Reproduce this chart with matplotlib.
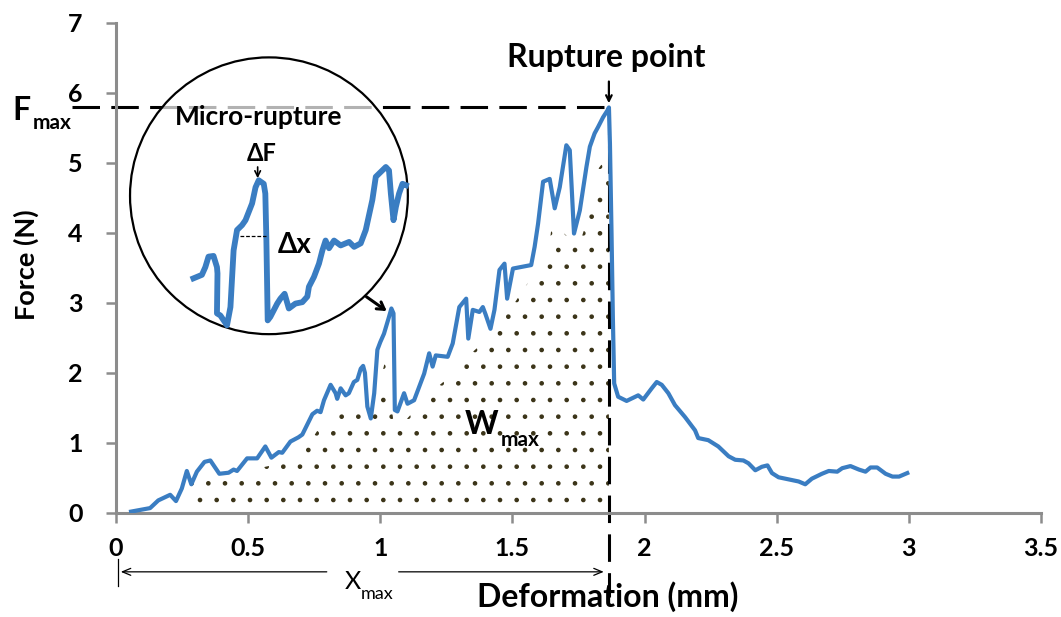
import numpy as np
import matplotlib
matplotlib.use('Agg')
import matplotlib.pyplot as plt
from matplotlib.patches import Ellipse

plt.rcParams['font.family'] = ['Lato', 'DejaVu Sans']
plt.rcParams['hatch.linewidth'] = 0.9

# force-deformation curve
deform = [0.057, 0.129, 0.16, 0.205, 0.227, 0.249, 0.268, 0.285, 0.306, 0.335,
          0.357, 0.391, 0.426, 0.445, 0.458, 0.496, 0.534, 0.565, 0.588, 0.616,
          0.629, 0.66, 0.69, 0.705, 0.743, 0.761, 0.774, 0.787, 0.812, 0.831,
          0.837, 0.85, 0.869, 0.881, 0.9, 0.913, 0.926, 0.935, 0.942, 0.951,
          0.964, 0.977, 0.989, 1.0, 1.014, 1.033, 1.042, 1.05, 1.055, 1.065,
          1.09, 1.103, 1.128, 1.147, 1.166, 1.185, 1.198, 1.21, 1.255, 1.274,
          1.299, 1.325, 1.333, 1.35, 1.375, 1.388, 1.398, 1.417, 1.432, 1.451,
          1.47, 1.48, 1.502, 1.571, 1.584, 1.597, 1.616, 1.641, 1.66, 1.679,
          1.704, 1.717, 1.733, 1.755, 1.78, 1.793, 1.811, 1.824, 1.843, 1.86,
          1.865, 1.869, 1.875, 1.88, 1.885, 1.90, 1.932, 1.976, 1.995, 2.027,
          2.046, 2.065, 2.09, 2.115, 2.153, 2.191, 2.203, 2.241, 2.279, 2.318,
          2.343, 2.374, 2.393, 2.419, 2.444, 2.465, 2.482, 2.507, 2.545, 2.583,
          2.608, 2.633, 2.671, 2.697, 2.729, 2.748, 2.779, 2.811, 2.836, 2.855,
          2.88, 2.912, 2.938, 2.963, 2.994]
force = [0.02, 0.07, 0.18, 0.26, 0.17, 0.35, 0.60, 0.41, 0.59, 0.73,
         0.75, 0.56, 0.575, 0.62, 0.60, 0.78, 0.78, 0.95, 0.79, 0.87,
         0.86, 1.02, 1.08, 1.12, 1.41, 1.46, 1.44, 1.61, 1.83, 1.71,
         1.63, 1.78, 1.68, 1.71, 1.87, 1.90, 2.06, 2.10, 2.0, 1.52,
         1.35, 1.71, 2.33, 2.44, 2.56, 2.80, 2.92, 2.85, 1.47, 1.45,
         1.71, 1.56, 1.61, 1.80, 1.99, 2.28, 2.09, 2.25, 2.23, 2.42,
         2.94, 3.06, 2.49, 2.90, 2.87, 2.94, 2.84, 2.63, 2.90, 3.47,
         3.56, 3.06, 3.49, 3.54, 3.80, 4.13, 4.73, 4.77, 4.35, 4.65,
         5.25, 5.18, 3.99, 4.32, 4.94, 5.23, 5.42, 5.51, 5.65, 5.75,
         5.79, 5.27, 3.99, 2.80, 1.85, 1.66, 1.60, 1.68, 1.62, 1.78,
         1.87, 1.83, 1.71, 1.54, 1.37, 1.18, 1.07, 1.04, 0.95, 0.81,
         0.76, 0.75, 0.71, 0.61, 0.66, 0.68, 0.57, 0.51, 0.48, 0.45,
         0.41, 0.49, 0.56, 0.60, 0.59, 0.64, 0.67, 0.62, 0.59, 0.65,
         0.65, 0.56, 0.52, 0.52, 0.57]

# dotted area (work to rupture)
fill_x = [0.28, 0.54, 0.69, 0.78, 0.87, 0.90, 0.96, 1.02, 1.05, 1.09, 1.20, 1.27,
          1.33, 1.39, 1.48, 1.51, 1.57, 1.63, 1.65, 1.69, 1.75, 1.81, 1.82, 1.84, 1.865]
fill_top = [0.50, 0.64, 0.76, 1.28, 1.45, 1.54, 1.25, 2.20, 1.30, 1.30, 1.75, 1.97,
            2.23, 2.44, 2.90, 3.01, 3.35, 3.56, 4.13, 4.01, 3.80, 4.49, 4.89, 4.99, 5.0]

# magnified micro-rupture drawn inside the circle (axes data units)
zoom_x = [0.293, 0.325, 0.338, 0.350, 0.369, 0.382, 0.384, 0.382, 0.395, 0.420,
          0.433, 0.445, 0.458, 0.477, 0.490, 0.515, 0.528, 0.540, 0.559, 0.565,
          0.569, 0.574, 0.584, 0.610, 0.622, 0.638, 0.654, 0.679, 0.705, 0.724,
          0.730, 0.749, 0.768, 0.781, 0.793, 0.806, 0.825, 0.850, 0.882, 0.901,
          0.926, 0.945, 0.970, 0.983, 1.002, 1.021, 1.033, 1.040, 1.050, 1.059,
          1.071, 1.084, 1.097]
zoom_y = [3.35, 3.40, 3.51, 3.66, 3.67, 3.51, 3.42, 2.85, 2.82, 2.68,
          2.94, 3.75, 4.04, 4.11, 4.18, 4.42, 4.65, 4.75, 4.70, 4.56,
          3.90, 2.75, 2.80, 2.99, 3.06, 3.13, 2.92, 2.99, 3.01, 3.09,
          3.23, 3.37, 3.56, 3.75, 3.89, 3.78, 3.89, 3.82, 3.87, 3.80,
          3.85, 4.04, 4.47, 4.80, 4.87, 4.94, 4.89, 4.56, 4.18, 4.37,
          4.56, 4.70, 4.68]

x_ticks = [0, 0.5, 1, 1.5, 2, 2.5, 3, 3.5]
x_labels = ['0', '0.5', '1', '1.5', '2', '2.5', '3', '3.5']
y_ticks = [0, 1, 2, 3, 4, 5, 6, 7]

f_max = 5.79
x_max = 1.865

blue = '#3A7DC2'
grey = '#8C8C8C'
W, H = 1061, 617

fig = plt.figure(figsize=(W / 100, H / 100), dpi=100)
ax = fig.add_axes([116 / W, 1 - 513 / H, 925 / W, 490.3 / H])

ax.fill_between(fill_x, 0, fill_top, facecolor='none', edgecolor='#3b3418',
                hatch='.', linewidth=0, zorder=1)
ax.plot(deform, force, color=blue, lw=3.0, zorder=3, solid_joinstyle='round')

dash = (0, (9, 3.7))
ax.plot([-0.167, x_max], [f_max, f_max], color='black', lw=2.2, ls=dash,
        clip_on=False, zorder=2)
ax.plot([x_max, x_max], [f_max, -1.2], color='black', lw=2.2, ls=dash,
        clip_on=False, zorder=2)

# zoom circle
circ = Ellipse((0.5787, 4.529), 277 / 263.5, 277 / 70.1, facecolor='white',
               alpha=0.7, edgecolor='none', zorder=4)
ax.add_patch(circ)
ax.add_patch(Ellipse((0.5787, 4.529), 277 / 263.5, 277 / 70.1, facecolor='none',
                     edgecolor='black', lw=1.6, zorder=5))
ax.plot(zoom_x, zoom_y, color=blue, lw=4.2, zorder=5, solid_joinstyle='round')
ax.text(0.539, 5.66, 'Micro-rupture', fontsize=19, fontweight='bold',
        ha='center', va='center', zorder=6)
ax.text(0.553, 5.13, '\u0394F', fontsize=17, fontweight='bold', ha='center',
        va='center', zorder=6)
ax.annotate('', xy=(0.536, 4.74), xytext=(0.536, 4.98),
            arrowprops=dict(arrowstyle='->', lw=1.2, color='black'), zorder=6)
ax.plot([0.468, 0.569], [3.95, 3.95], color='black', lw=0.9, ls=(0, (3, 1.5)), zorder=6)
ax.text(0.675, 3.82, '\u0394x', fontsize=20, fontweight='bold', ha='center',
        va='center', zorder=6)
ax.annotate('', xy=(1.033, 2.86), xytext=(0.939, 3.11),
            arrowprops=dict(arrowstyle='->,head_length=0.5,head_width=0.3',
                            lw=2.2, color='black'), zorder=6)

# rupture point
ax.annotate('', xy=(x_max, 5.81), xytext=(x_max, 6.2),
            arrowprops=dict(arrowstyle='->', lw=1.6, color='black'), zorder=6)
ax.text(x_max - 0.01, 6.5, 'Rupture point', fontsize=23, fontweight='bold',
        ha='center', va='center')

# W max
ax.text(1.385, 1.26, 'W', fontsize=23, fontweight='bold', ha='center', va='center')
ax.text(1.455, 1.04, 'max', fontsize=15, fontweight='bold', ha='left', va='center')

# X max dimension arrow
ax.annotate('', xy=(0.0076, -0.84), xytext=(0.808, -0.84), annotation_clip=False,
            arrowprops=dict(arrowstyle='->,head_length=0.6,head_width=0.25', lw=0.9))
ax.annotate('', xy=(1.856, -0.84), xytext=(1.059, -0.84), annotation_clip=False,
            arrowprops=dict(arrowstyle='->,head_length=0.6,head_width=0.25', lw=0.9))
ax.plot([0.0076, 0.0076], [-0.66, -1.04], color='black', lw=0.9, clip_on=False)
ax.text(0.926, -0.98, 'X', fontsize=18, ha='right', va='center')
ax.text(0.926, -1.16, 'max', fontsize=13, ha='left', va='center')

ax.set_xlim(0, 3.5)
ax.set_ylim(0, 7)
ax.set_xticks(x_ticks)
ax.set_xticklabels(x_labels)
ax.set_yticks(y_ticks)
for lab in ax.get_xticklabels() + ax.get_yticklabels():
    lab.set_fontweight('bold')
    lab.set_fontsize(18)
ax.tick_params(axis='both', direction='out', length=7, width=1.8, color=grey)
ax.tick_params(axis='y', pad=17)
ax.tick_params(axis='x', pad=10)
for s in ['top', 'right']:
    ax.spines[s].set_visible(False)
for s in ['left', 'bottom']:
    ax.spines[s].set_color(grey)
    ax.spines[s].set_linewidth(2.2)

fig.text(26 / W, 1 - 265 / H, 'Force (N)', rotation=90, fontsize=19.5,
         fontweight='bold', ha='center', va='center')
fig.text(608 / W, 1 - 597 / H, 'Deformation (mm)', fontsize=23,
         fontweight='bold', ha='center', va='center')
fig.text(12 / W, 1 - 110 / H, 'F', fontsize=23, fontweight='bold', ha='left', va='center')
fig.text(33 / W, 1 - 123 / H, 'max', fontsize=15, fontweight='bold', ha='left', va='center')

fig.savefig('out.png', dpi=100)
